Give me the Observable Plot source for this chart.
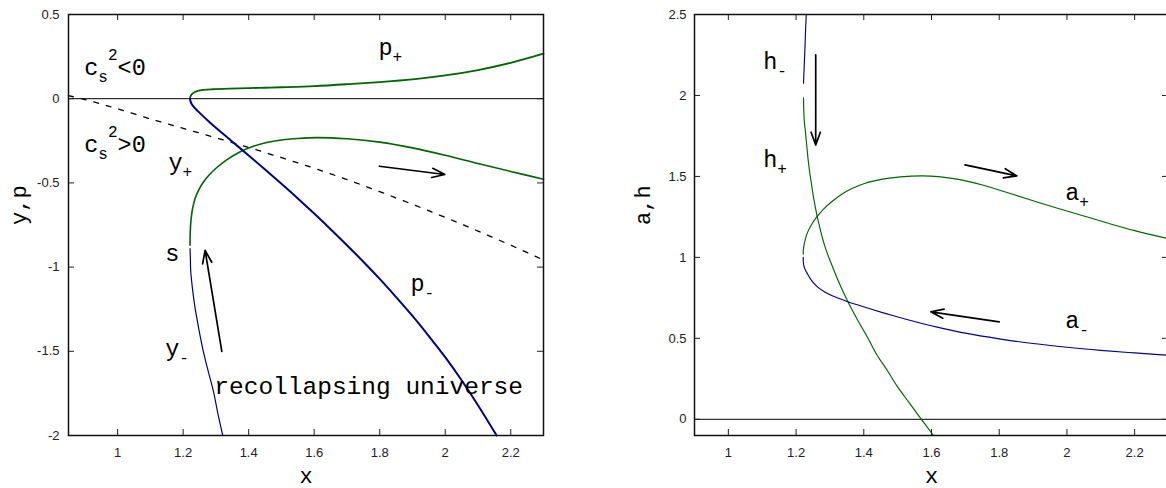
<!DOCTYPE html>
<html><head><meta charset="utf-8">
<script src="https://cdn.jsdelivr.net/npm/d3@7"></script>
<script src="https://cdn.jsdelivr.net/npm/@observablehq/plot@0.6"></script>
<style>
body{margin:0;background:#fff;}
#wrap{display:flex;width:1166px;height:488px;overflow:hidden;background:#fff;}
#wrap > *{flex:none;}
</style></head><body><div id="wrap"></div>
<script>
// ---------- LEFT PANEL DATA (x vs y,p) ----------
const xTicksL = [1, 1.2, 1.4, 1.6, 1.8, 2, 2.2];
const yTicksL = [-2, -1.5, -1, -0.5, 0, 0.5];

const pPlusX = [1.221, 1.222, 1.226, 1.233, 1.245, 1.262, 1.29, 1.34, 1.4, 1.45, 1.5, 1.6, 1.7, 1.8, 1.9, 2.0, 2.1, 2.2, 2.3];
const pPlusY = [0, 0.012, 0.026, 0.037, 0.046, 0.052, 0.056, 0.06, 0.063, 0.065, 0.068, 0.075, 0.086, 0.099, 0.115, 0.138, 0.17, 0.213, 0.267];

const pMinusX = [1.221, 1.2225, 1.226, 1.233, 1.245, 1.26, 1.28, 1.3, 1.35, 1.4, 1.45, 1.5, 1.55, 1.6, 1.65, 1.7, 1.75, 1.8, 1.85, 1.9, 1.95, 2.0, 2.05, 2.1, 2.157];
const pMinusY = [0, -0.016, -0.032, -0.05, -0.074, -0.102, -0.138, -0.173, -0.255, -0.337, -0.42, -0.505, -0.592, -0.682, -0.775, -0.87, -0.968, -1.07, -1.178, -1.29, -1.41, -1.535, -1.672, -1.82, -2.0];

const yPlusX = [1.221, 1.2215, 1.224, 1.229, 1.237, 1.248, 1.262, 1.28, 1.302, 1.335, 1.373, 1.41, 1.455, 1.5, 1.55, 1.61, 1.7, 1.8, 1.9, 2.0, 2.1, 2.2, 2.3];
const yPlusY = [-0.87, -0.8, -0.72, -0.65, -0.59, -0.54, -0.495, -0.452, -0.41, -0.36, -0.316, -0.285, -0.26, -0.245, -0.236, -0.231, -0.238, -0.258, -0.292, -0.336, -0.385, -0.432, -0.478];

const yMinusX = [1.221, 1.222, 1.223, 1.228, 1.236, 1.248, 1.261, 1.276, 1.292, 1.306, 1.321];
const yMinusY = [-0.89, -0.95, -1.02, -1.12, -1.238, -1.37, -1.496, -1.615, -1.734, -1.87, -2.0];

const csX = [0.85, 0.9, 0.95, 1.0, 1.1, 1.2, 1.3, 1.4, 1.5, 1.6, 1.7, 1.8, 1.9, 2.0, 2.1, 2.2, 2.3];
const csY = [0.018, -0.005, -0.032, -0.06, -0.12, -0.176, -0.232, -0.29, -0.35, -0.413, -0.48, -0.552, -0.627, -0.705, -0.786, -0.87, -0.958];

const arrowsL = [
  {x1: 1.799, y1: -0.401, x2: 1.999, y2: -0.45},
  {x1: 1.318, y1: -1.501, x2: 1.267, y2: -0.901}
];

const labelsL = [
  {x: 0.898, y: 0.138, parts: [["c", ""], ["s", "sub"], ["2", "sup"], ["<0", ""]]},
  {x: 0.898, y: -0.318, parts: [["c", ""], ["s", "sub"], ["2", "sup"], [">0", ""]]},
  {x: 1.155, y: -0.426, parts: [["y", ""], ["+", "sub"]]},
  {x: 1.145, y: -0.961, parts: [["s", ""]]},
  {x: 1.145, y: -1.525, parts: [["y", ""], ["-", "sub"]]},
  {x: 1.796, y: 0.257, parts: [["p", ""], ["+", "sub"]]},
  {x: 1.894, y: -1.139, parts: [["p", ""], ["-", "sub"]]},
  {x: 1.295, y: -1.752, size: 24.5, parts: [["recollapsing universe", ""]]}
];

// ---------- RIGHT PANEL DATA (x vs a,h) ----------
const xTicksR = [1, 1.2, 1.4, 1.6, 1.8, 2, 2.2];
const yTicksR = [0, 0.5, 1, 1.5, 2, 2.5];

const aPlusX = [1.221, 1.222, 1.226, 1.233, 1.245, 1.261, 1.282, 1.306, 1.335, 1.365, 1.4, 1.434, 1.47, 1.508, 1.57, 1.62, 1.68, 1.75, 1.83, 1.9, 1.97, 2.05, 2.12, 2.2, 2.3];
const aPlusY = [1.02, 1.056, 1.1, 1.15, 1.2, 1.25, 1.3, 1.345, 1.39, 1.425, 1.455, 1.474, 1.488, 1.497, 1.503, 1.499, 1.482, 1.447, 1.396, 1.35, 1.305, 1.256, 1.212, 1.165, 1.115];

const aMinusX = [1.221, 1.2215, 1.224, 1.228, 1.233, 1.245, 1.263, 1.285, 1.312, 1.351, 1.39, 1.43, 1.48, 1.53, 1.62, 1.7, 1.8, 1.9, 2.0, 2.1, 2.2, 2.3];
const aMinusY = [1.0, 0.97, 0.94, 0.92, 0.901, 0.86, 0.818, 0.786, 0.758, 0.728, 0.701, 0.675, 0.644, 0.615, 0.568, 0.532, 0.497, 0.468, 0.445, 0.426, 0.41, 0.395];

const hMinusX = [1.23, 1.228, 1.226, 1.224, 1.222];
const hMinusY = [2.5, 2.4, 2.28, 2.18, 2.076];

const hPlusX = [1.222, 1.2225, 1.224, 1.228, 1.232, 1.238, 1.245, 1.253, 1.267, 1.287, 1.31, 1.33, 1.351, 1.38, 1.41, 1.438, 1.47, 1.5, 1.535, 1.57, 1.606];
const hPlusY = [1.985, 1.93, 1.85, 1.767, 1.68, 1.56, 1.46, 1.354, 1.21, 1.056, 0.93, 0.83, 0.736, 0.62, 0.51, 0.4, 0.3, 0.2, 0.1, 0.0, -0.1];

const arrowsR = [
  {x1: 1.258, y1: 2.251, x2: 1.258, y2: 1.694},
  {x1: 1.699, y1: 1.571, x2: 1.852, y2: 1.503},
  {x1: 1.8, y1: 0.602, x2: 1.598, y2: 0.664}
];

const labelsR = [
  {x: 1.103, y: 2.161, parts: [["h", ""], ["-", "sub"]]},
  {x: 1.103, y: 1.56, parts: [["h", ""], ["+", "sub"]]},
  {x: 1.995, y: 1.354, parts: [["a", ""], ["+", "sub"]]},
  {x: 1.995, y: 0.561, parts: [["a", ""], ["-", "sub"]]}
];

// ---------- STYLE ----------
const GREEN = "#006400", BLUE = "#00008b";
const MONO = "'Liberation Mono', 'DejaVu Sans Mono', monospace";
const SANS = "'Liberation Sans', Arial, sans-serif";

const zip = (xs, ys) => xs.map((x, i) => ({x, y: ys[i]}));

function labelMarks(labels) {
  const marks = [];
  for (const L of labels) {
    let off = 0;
    for (const [t, kind] of L.parts) {
      const size = kind ? 16 : (L.size || 23.5);
      const dy = kind === "sub" ? 7 : kind === "sup" ? -15 : 0;
      marks.push(Plot.text([L], {
        x: "x", y: "y", text: () => t, dx: off, dy,
        fontSize: size, fontFamily: MONO, textAnchor: "start", lineAnchor: "bottom", fill: "#000"
      }));
      off += t.length * 0.6 * size;
    }
  }
  return marks;
}

function panel({width, marginLeft, marginRight, xDomain, yDomain, xTicks, yTicks, ylabel, ylabelDx, tickPad, marks}) {
  const height = 488, marginTop = 14, marginBottom = 53;
  const innerW = width - marginLeft - marginRight;
  const innerH = height - marginTop - marginBottom;
  const tl = 6;
  return Plot.plot({
    width, height, marginLeft, marginRight, marginTop, marginBottom,
    x: {domain: xDomain},
    y: {domain: yDomain},
    style: {fontFamily: SANS, background: "#fff", color: "#222", overflow: "visible"},
    marks: [
      Plot.ruleY([0], {stroke: "#000", strokeWidth: 1}),
      ...marks,
      Plot.ruleX(xTicks, {insetTop: innerH - tl, stroke: "#222"}),
      Plot.ruleX(xTicks, {insetBottom: innerH - tl, stroke: "#222"}),
      Plot.ruleY(yTicks, {insetRight: innerW - tl, stroke: "#222"}),
      Plot.ruleY(yTicks, {insetLeft: innerW - tl, stroke: "#222"}),
      Plot.axisX({ticks: xTicks, tickSize: 0, tickPadding: 12, tickFormat: d => String(d), fontSize: 13, label: null}),
      Plot.axisY({ticks: yTicks, tickSize: 0, tickPadding: tickPad, tickFormat: d => String(d), fontSize: 13, label: null}),
      Plot.frame({stroke: "#111", strokeWidth: 1.5}),
      Plot.text(["x"], {frameAnchor: "bottom", dy: 47, fontFamily: MONO, fontSize: 22, fill: "#000"}),
      Plot.text([ylabel], {frameAnchor: "left", dx: ylabelDx, rotate: -90, fontFamily: MONO, fontSize: 22, fill: "#000"})
    ]
  });
}

const curve = "catmull-rom";

const left = panel({
  width: 583, marginLeft: 68, marginRight: 40,
  xDomain: [0.85, 2.3], yDomain: [-2, 0.5],
  xTicks: xTicksL, yTicks: yTicksL, ylabel: "y,p", ylabelDx: -50, tickPad: 9,
  marks: [
    Plot.line(zip(csX, csY), {x: "x", y: "y", stroke: "#000", strokeWidth: 1.3, strokeDasharray: "5,8", curve}),
    Plot.line(zip(pPlusX, pPlusY), {x: "x", y: "y", stroke: GREEN, strokeWidth: 1.8, curve}),
    Plot.line(zip(yPlusX, yPlusY), {x: "x", y: "y", stroke: GREEN, strokeWidth: 1.6, curve}),
    Plot.line(zip(pMinusX, pMinusY), {x: "x", y: "y", stroke: BLUE, strokeWidth: 2, curve}),
    Plot.line(zip(yMinusX, yMinusY), {x: "x", y: "y", stroke: BLUE, strokeWidth: 1.2, curve}),
    Plot.arrow(arrowsL, {x1: "x1", y1: "y1", x2: "x2", y2: "y2", stroke: "#000", strokeWidth: 1.7, headLength: 12, headAngle: 40}),
    ...labelMarks(labelsL)
  ]
});

const right = panel({
  width: 595, marginLeft: 111, marginRight: 10,
  xDomain: [0.9, 2.3], yDomain: [-0.1, 2.5],
  xTicks: xTicksR, yTicks: yTicksR, ylabel: "a,h", ylabelDx: -52, tickPad: 8,
  marks: [
    Plot.line(zip(aPlusX, aPlusY), {x: "x", y: "y", stroke: GREEN, strokeWidth: 1.15, curve}),
    Plot.line(zip(hPlusX, hPlusY), {x: "x", y: "y", stroke: GREEN, strokeWidth: 1.15, curve}),
    Plot.line(zip(aMinusX, aMinusY), {x: "x", y: "y", stroke: BLUE, strokeWidth: 1.15, curve}),
    Plot.line(zip(hMinusX, hMinusY), {x: "x", y: "y", stroke: BLUE, strokeWidth: 1.15, curve}),
    Plot.arrow(arrowsR, {x1: "x1", y1: "y1", x2: "x2", y2: "y2", stroke: "#000", strokeWidth: 1.7, headLength: 12, headAngle: 40}),
    ...labelMarks(labelsR)
  ]
});

document.getElementById("wrap").append(left, right);
</script>
</body></html>
